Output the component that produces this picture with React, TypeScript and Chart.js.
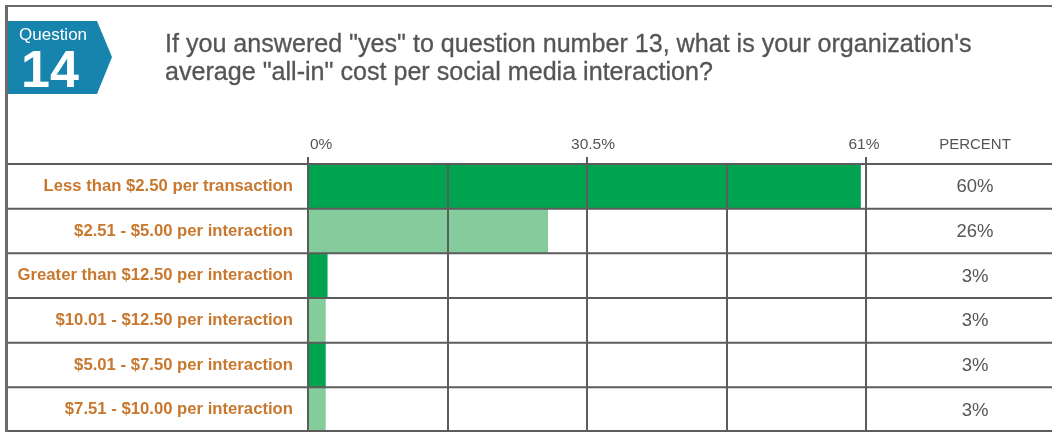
import React, { useEffect, useRef } from 'react';
import { Chart, registerables } from 'chart.js';

Chart.register(...registerables);

const categories = [
  'Less than $2.50 per transaction',
  '$2.51 - $5.00 per interaction',
  'Greater than $12.50 per interaction',
  '$10.01 - $12.50 per interaction',
  '$5.01 - $7.50 per interaction',
  '$7.51 - $10.00 per interaction',
];
const values = [60.4, 26.2, 2.1, 1.9, 1.9, 1.9];
const percentLabels = ['60%', '26%', '3%', '3%', '3%', '3%'];
const barColors = ['#00a34f', '#84cc9c', '#00a34f', '#84cc9c', '#00a34f', '#84cc9c'];
const gridValues = [0, 15.25, 30.5, 45.75, 61];
const tickLabels = ['0%', '', '30.5%', '', '61%'];
const columnHeader = 'PERCENT';
const questionLabel = 'Question';
const questionNumber = '14';
const titleLines = [
  'If you answered "yes" to question number 13, what is your organization\'s',
  'average "all-in" cost per social media interaction?',
];

const FONT = '"Liberation Sans", Arial, Helvetica, sans-serif';
const LINE = '#5c5c5c';

const tablePlugin = {
  id: 'tableLines',
  afterDraw(chart: any) {
    const { ctx, chartArea } = chart;
    const y = chart.scales.y;
    const x = chart.scales.x;
    const step = y.getPixelForValue(1) - y.getPixelForValue(0);
    const half = step / 2;
    ctx.save();
    ctx.strokeStyle = LINE;
    ctx.lineWidth = 2;
    for (let i = 0; i <= categories.length; i++) {
      let py = y.getPixelForValue(i) - half;
      if (py > chart.height - 1) py = chart.height - 1;
      ctx.beginPath();
      ctx.moveTo(7, py);
      ctx.lineTo(chart.width, py);
      ctx.stroke();
    }
    ctx.fillStyle = '#555555';
    ctx.textBaseline = 'middle';
    ctx.font = `15.5px ${FONT}`;
    tickLabels.forEach((lbl, i) => {
      if (!lbl) return;
      const px = x.getPixelForValue(gridValues[i]);
      if (i === 0) {
        ctx.textAlign = 'left';
        ctx.fillText(lbl, px + 2, 145);
      } else {
        ctx.textAlign = 'center';
        ctx.fillText(lbl, px + (i === tickLabels.length - 1 ? -2 : 6), 145);
      }
    });
    const cx = chartArea.right + 109;
    ctx.textAlign = 'center';
    ctx.font = `15px ${FONT}`;
    ctx.fillText(columnHeader, cx, 145);
    ctx.font = `18.5px ${FONT}`;
    percentLabels.forEach((lbl, i) => {
      ctx.fillText(lbl, cx, y.getPixelForValue(i) + 1);
    });
    ctx.restore();
  },
};

function App() {
  const ref = useRef<HTMLCanvasElement>(null);
  useEffect(() => {
    const chart = new Chart(ref.current as HTMLCanvasElement, {
      type: 'bar',
      data: {
        labels: categories,
        datasets: [
          {
            data: values,
            backgroundColor: barColors,
            borderWidth: 0,
            barPercentage: 1,
            categoryPercentage: 1,
          },
        ],
      },
      options: {
        indexAxis: 'y',
        responsive: false,
        animation: false,
        events: [],
        layout: { autoPadding: false, padding: { left: 8, top: 120, right: 186, bottom: 0 } },
        plugins: { legend: { display: false }, tooltip: { enabled: false } },
        scales: {
          x: {
            position: 'top',
            min: 0,
            max: 61,
            afterBuildTicks: (scale: any) => {
              scale.ticks = gridValues.map((v) => ({ value: v }));
            },
            afterFit: (scale: any) => {
              scale.height = 44;
              scale.paddingLeft = 0;
              scale.paddingRight = 0;
            },
            ticks: {
              display: false,
              autoSkip: false,
              maxRotation: 0,
            },
            grid: {
              z: 1,
              color: LINE,
              lineWidth: 2,
              drawTicks: true,
              tickLength: 7,
              tickColor: (c: any) => (tickLabels[c.index] ? LINE : 'rgba(0,0,0,0)'),
            },
            border: { display: false },
          },
          y: {
            afterFit: (scale: any) => {
              scale.width = 300;
              scale.paddingTop = 0;
              scale.paddingBottom = 0;
            },
            ticks: {
              padding: 15,
              color: '#c8782e',
              font: { family: FONT, size: 16.7, weight: 'bold' },
            },
            grid: { display: false, drawTicks: false },
            border: { display: false },
          },
        },
      },
      plugins: [tablePlugin],
    } as any);
    return () => chart.destroy();
  }, []);

  return (
    <div
      style={{
        position: 'fixed',
        left: 0,
        top: 0,
        width: 1052,
        height: 432,
        background: '#ffffff',
        overflow: 'hidden',
        fontFamily: FONT,
      }}
    >
      <canvas
        ref={ref}
        width={1052}
        height={432}
        style={{ position: 'absolute', left: 0, top: 0, width: 1052, height: 432 }}
      />
      <div
        style={{
          position: 'absolute',
          left: 5,
          top: 5,
          width: 1100,
          height: 500,
          borderTop: '2px solid #6a6a6a',
          borderLeft: '3px solid #6a6a6a',
          pointerEvents: 'none',
        }}
      />
      <div
        style={{
          position: 'absolute',
          left: 8,
          top: 21,
          width: 104,
          height: 73,
          background: '#1784ad',
          clipPath: 'polygon(0 0, 89px 0, 104px 36px, 89px 73px, 0 73px)',
          color: '#ffffff',
        }}
      >
        <div style={{ position: 'absolute', left: 11, top: 4.6, fontSize: 17, lineHeight: '17px', whiteSpace: 'nowrap' }}>
          {questionLabel}
        </div>
        <div
          style={{
            position: 'absolute',
            left: 13,
            top: 22,
            fontSize: 52,
            lineHeight: '52px',
            fontWeight: 'bold',
            whiteSpace: 'nowrap',
          }}
        >
          {questionNumber}
        </div>
      </div>
      <div
        style={{
          position: 'absolute',
          left: 165,
          top: 28.5,
          fontSize: 25.1,
          lineHeight: '28px',
          color: '#555555',
          whiteSpace: 'nowrap',
          WebkitTextStroke: '0.3px #555555',
        }}
      >
        {titleLines[0]}
        <br />
        {titleLines[1]}
      </div>
    </div>
  );
}

export default App;
